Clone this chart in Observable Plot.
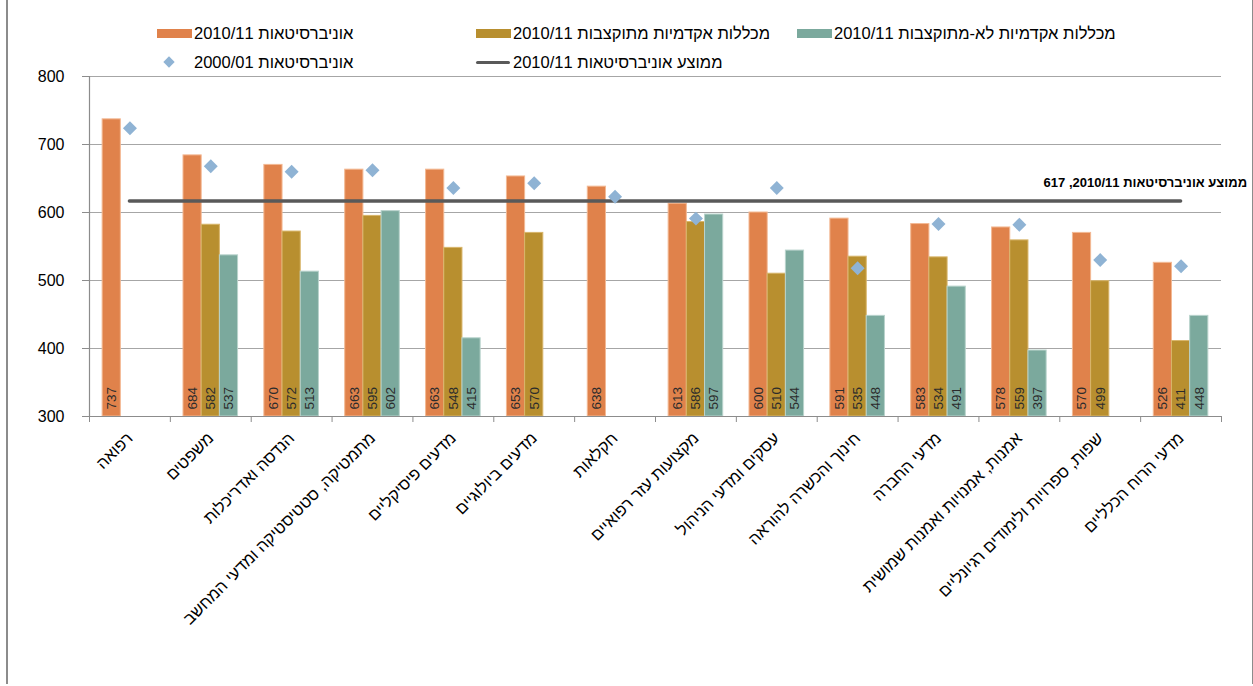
<!DOCTYPE html>
<html lang="he">
<head>
<meta charset="utf-8">
<script src="https://cdn.jsdelivr.net/npm/d3@7"></script>
<script src="https://cdn.jsdelivr.net/npm/@observablehq/plot@0.6"></script>
<style>
  html, body { margin: 0; padding: 0; background: #fff; }
  #wrap { position: relative; width: 1253px; height: 686px; overflow: hidden; font-family: "Liberation Sans", Arial, sans-serif; }
  #border { position: absolute; left: 6px; top: -2px; width: 1244px; height: 686px; border-left: 2px solid #8c8c8c; border-right: 2px solid #8c8c8c; pointer-events: none; }
  #legend { position: relative; height: 68px; font-size: 16.5px; color: #000; }
  #legend .row { position: absolute; left: 157px; display: flex; align-items: center; height: 20px; }
  #legend .item { display: flex; align-items: center; }
  #legend .sw { display: inline-block; width: 35px; height: 9px; margin-right: 2px; flex: none; position: relative; }
  #legend .txt { white-space: nowrap; unicode-bidi: isolate; }
  #chart svg { display: block; overflow: visible; }
</style>
</head>
<body>
<div id="wrap">
  <div id="legend"></div>
  <div id="chart"></div>
  <div id="border"></div>
</div>
<script>
// ---- data ----
const categories = [
  "רפואה",
  "משפטים",
  "הנדסה ואדריכלות",
  "מתמטיקה, סטטיסטיקה ומדעי המחשב",
  "מדעים פיסיקליים",
  "מדעים ביולוגיים",
  "חקלאות",
  "מקצועות עזר רפואיים",
  "עסקים ומדעי הניהול",
  "חינוך והכשרה להוראה",
  "מדעי החברה",
  "אמנות, אמנויות ואמנות שמושית",
  "שפות, ספרויות ולימודים רגיונליים",
  "מדעי הרוח הכלליים"
];
const universities2010 = [737, 684, 670, 663, 663, 653, 638, 613, 600, 591, 583, 578, 570, 526];
const fundedColleges2010 = [null, 582, 572, 595, 548, 570, null, 586, 510, 535, 534, 559, 499, 411];
const unfundedColleges2010 = [null, 537, 513, 602, 415, null, null, 597, 544, 448, 491, 397, null, 448];
const universities2000 = [724, 668, 660, 662, 636, 643, 623, 591, 636, 518, 583, 582, 530, 521];
const universitiesAverage2010 = 617;
const seriesNames = [
  "אוניברסיטאות 2010/11",
  "מכללות אקדמיות מתוקצבות 2010/11",
  "מכללות אקדמיות לא-מתוקצבות 2010/11",
  "אוניברסיטאות 2000/01",
  "ממוצע אוניברסיטאות 2010/11"
];
const averageLabel = "ממוצע אוניברסיטאות 2010/11, 617";
const yTicks = [300, 400, 500, 600, 700, 800];

// ---- styles ----
const colors = ["#e0824b", "#b88f2f", "#7ba99d", "#8fb3d4", "#595959"];
const edgeColors = ["#f3b994", "#d8b56a", "#b9d3cc"];
const barWidth = 0.225; // fraction of a category slot

// ---- build rows ----
const barSeries = [universities2010, fundedColleges2010, unfundedColleges2010];
const rows = [];
categories.forEach((c, i) => {
  barSeries.forEach((arr, s) => {
    if (arr[i] != null) rows.push({i, s, v: arr[i], category: c});
  });
});
const diamonds = categories.map((c, i) => ({i, v: universities2000[i]}));
const center = d => d.i + (d.s - 1) * barWidth;
const yMin = yTicks[0], yMax = yTicks[yTicks.length - 1];
const n = categories.length;

// ---- legend ----
const legend = document.getElementById("legend");
const rowsDef = [
  {top: 23, items: [[0, 319], [1, 321], [2, 0]]},
  {top: 52, items: [[3, 319], [4, 0]]}
];
rowsDef.forEach(r => {
  const row = document.createElement("div");
  row.className = "row";
  row.style.top = r.top + "px";
  r.items.forEach(([k, w]) => {
    const item = document.createElement("div");
    item.className = "item";
    if (w) item.style.width = w + "px";
    const sw = document.createElement("span");
    sw.className = "sw";
    if (k < 3) {
      sw.style.background = colors[k];
    } else if (k === 3) {
      const d = document.createElement("span");
      d.style.cssText = `position:absolute;left:8px;top:0px;width:8px;height:8px;background:${colors[3]};transform:rotate(45deg);`;
      sw.appendChild(d);
    } else {
      const l = document.createElement("span");
      l.style.cssText = `position:absolute;left:0;top:3px;width:34px;height:3.5px;background:${colors[4]};border-radius:2px;`;
      sw.appendChild(l);
    }
    const t = document.createElement("span");
    t.className = "txt";
    t.dir = "rtl";
    t.textContent = seriesNames[k];
    item.appendChild(sw);
    item.appendChild(t);
    row.appendChild(item);
  });
  legend.appendChild(row);
});

// ---- chart ----
const plot = Plot.plot({
  width: 1253,
  height: 618,
  marginLeft: 89,
  marginRight: 32,
  marginTop: 8,
  marginBottom: 270,
  style: {fontFamily: "'Liberation Sans', Arial, sans-serif", fontSize: "15px", color: "#000", background: "transparent"},
  x: {type: "linear", domain: [-0.5, n - 0.5]},
  y: {domain: [yMin, yMax]},
  marks: [
    Plot.ruleY(yTicks.slice(1), {stroke: "#a6a6a6", strokeWidth: 1.2}),
    Plot.rectY(rows, {
      x1: d => center(d) - barWidth / 2,
      x2: d => center(d) + barWidth / 2,
      y1: yMin,
      y2: "v",
      fill: d => colors[d.s],
      stroke: d => edgeColors[d.s],
      strokeWidth: 1
    }),
    Plot.text(rows, {
      x: center,
      y: yMin,
      text: d => String(d.v),
      rotate: -90,
      textAnchor: "start",
      dy: -7,
      fontSize: 13.5,
      fill: "#2b2b2b"
    }),
    Plot.ruleY([universitiesAverage2010], {
      x1: 0, x2: n - 1, stroke: colors[4], strokeWidth: 3.5, strokeLinecap: "round"
    }),
    Plot.text([universitiesAverage2010], {
      x: n - 1, y: d => d, text: () => averageLabel,
      textAnchor: "end", dx: 66, dy: -18, fontSize: 13, fontWeight: "bold", fill: "#000"
    }),
    Plot.dot(diamonds, {x: "i", y: "v", symbol: "diamond2", r: 6.3, fill: colors[3], stroke: "none"}),
    Plot.ruleY([yMin], {stroke: "#8c8c8c", strokeWidth: 1.2}),
    Plot.ruleX([-0.5], {y1: yMin, y2: yMax, stroke: "#8c8c8c", strokeWidth: 1.2}),
    Plot.axisY({ticks: yTicks, tickSize: 7, tickPadding: 18, label: null, stroke: "#8c8c8c", fill: "#000", fontSize: 16}),
    Plot.axisX({ticks: d3.range(n + 1).map(i => i - 0.5), tickSize: 6, tickFormat: () => "", label: null, stroke: "#8c8c8c"}),
    Plot.axisX({ticks: d3.range(n), tickFormat: i => categories[i], tickSize: 0, tickRotate: -45, tickPadding: 19, label: null, fontSize: 16.5, fill: "#000"})
  ]
});
document.getElementById("chart").appendChild(plot);
</script>
</body>
</html>
